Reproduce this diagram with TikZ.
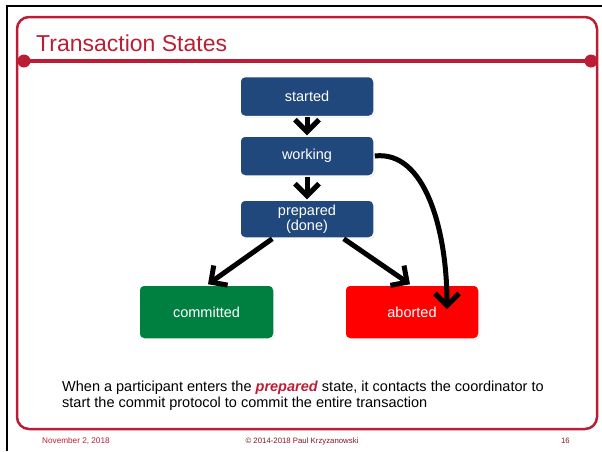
\documentclass[tikz,border=0pt]{standalone}
\usepackage{fontspec}
\setmainfont{Liberation Sans}
\usepackage{tikz}
\usetikzlibrary{arrows.meta,shadows}

\definecolor{slidered}{RGB}{187,30,52}
\definecolor{statenavy}{RGB}{33,72,124}
\definecolor{stategreen}{RGB}{0,128,64}
\definecolor{statered}{RGB}{255,0,0}

\tikzset{
  state/.style={rectangle, rounded corners=5, draw=white, line width=1.5,
    text=white, minimum width=134, minimum height=40, align=center,
    font=\fontsize{14.5}{15.5}\selectfont,
    drop shadow={opacity=0.25, shadow xshift=1, shadow yshift=-1}},
  trans/.style={line width=5, -{Straight Barb[length=12, width=24, line width=5]}},
}

\begin{document}
\begin{tikzpicture}[x=1pt,y=1pt,yscale=-1,xscale=1]
    \useasboundingbox (0,0) rectangle (602,451);

    %Shape: Page Edges
    \draw [line width=2] (6.5,451) -- (6.5,6) -- (602,6) ;
    %Shape: Slide Frame
    \draw [slidered, line width=2.5, rounded corners=12] (17,17) rectangle (597,429) ;
    %Straight Lines: Title Rule
    \draw [slidered, line width=4] (24,61) -- (591,61) ;
    \fill [slidered] (24,61) circle (6.5) ;
    \fill [slidered] (591,61) circle (6.5) ;

    % Text Node
    \node (title) at (36,51) [anchor=base west, inner sep=0, text=slidered,
      font=\fontsize{23}{25}\selectfont] {Transaction States};

    % States
    \node (started)   at (307,96.5) [state, fill=statenavy] {started};
    \node (working)   at (307,156)  [state, fill=statenavy] {working};
    \node (prepared)  at (307,219)  [state, fill=statenavy, minimum height=38] {prepared\\(done)};
    \node (committed) at (206.5,312) [state, fill=stategreen, minimum width=135, minimum height=54] {committed};
    \node (aborted)   at (412,312)  [state, fill=statered, minimum height=54] {aborted};
    \coordinate (abortend) at (447,309) ;

    % Transitions
    \draw [trans] (started.south) -- (working.north) ;
    \draw [trans] (working.south) -- (prepared.north) ;
    \draw [trans] ([xshift=33]prepared.south west) -- ([xshift=1.5]committed.north) ;
    \draw [trans] ([xshift=-31]prepared.south east) -- ([xshift=-2]aborted.north) ;
    \draw [trans] (working.east) .. controls (425,150) and (447,230) .. (abortend) ;

    % Text Node
    \node (note) at (62,407) [anchor=base west, inner sep=0, align=left,
      font=\fontsize{14.5}{16}\selectfont]
      {When a participant enters the \textcolor{slidered}{\textbf{\textit{prepared}}} state, it contacts the coordinator to\\
       start the commit protocol to commit the entire transaction};

    % Footer
    \node (date) at (42,443) [anchor=base west, inner sep=0, text=slidered,
      font=\fontsize{8.2}{9}\selectfont] {November 2, 2018};
    \node (copy) at (302,443) [anchor=base, inner sep=0, text=slidered!70!black,
      font=\fontsize{7.8}{9}\selectfont] {© 2014-2018 Paul Krzyzanowski};
    \node (page) at (570,443) [anchor=base east, inner sep=0, text=slidered!70!black,
      font=\fontsize{7.8}{9}\selectfont] {16};
\end{tikzpicture}
\end{document}
